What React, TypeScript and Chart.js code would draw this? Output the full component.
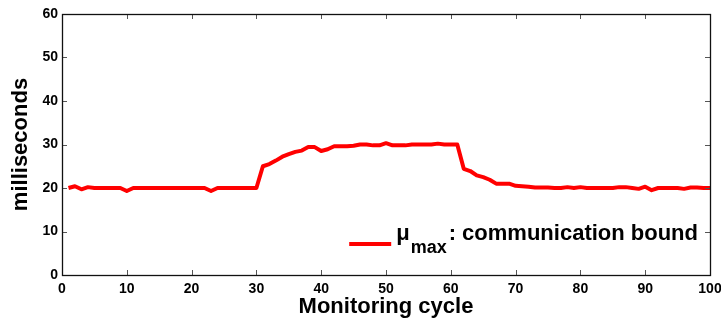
import React, { useEffect, useRef } from "react";
import { Chart, registerables } from "chart.js";

Chart.register(...registerables);

// Monitoring cycles 1..100
const cycles: number[] = Array.from({ length: 100 }, (_, i) => i + 1);

// mu_max: communication bound (milliseconds)
const commBound: number[] = [
  20.0, 20.4, 19.7, 20.2, 20.0, 20.0, 20.0, 20.0, 20.0, 19.3,
  20.0, 20.0, 20.0, 20.0, 20.0, 20.0, 20.0, 20.0, 20.0, 20.0,
  20.0, 20.0, 19.3, 20.0, 20.0, 20.0, 20.0, 20.0, 20.0, 20.0,
  25.0, 25.5, 26.3, 27.2, 27.8, 28.3, 28.6, 29.4, 29.4, 28.5,
  28.9, 29.6, 29.6, 29.6, 29.7, 30.0, 30.0, 29.8, 29.8, 30.3,
  29.8, 29.8, 29.8, 30.0, 30.0, 30.0, 30.0, 30.2, 30.0, 30.0,
  30.0, 24.4, 23.9, 22.9, 22.5, 21.9, 21.0, 21.0, 21.0, 20.5,
  20.4, 20.3, 20.1, 20.1, 20.1, 20.0, 20.0, 20.2, 20.0, 20.2,
  20.0, 20.0, 20.0, 20.0, 20.0, 20.2, 20.2, 20.0, 19.8, 20.3,
  19.5, 20.0, 20.0, 20.0, 20.0, 19.8, 20.1, 20.1, 20.0, 20.0,
];

const xTicks: number[] = [0, 10, 20, 30, 40, 50, 60, 70, 80, 90, 100];
const yTicks: number[] = [0, 10, 20, 30, 40, 50, 60];

const xTitle = "Monitoring cycle";
const yTitle = "milliseconds";
const legendSymbol = "μ";
const legendSub = "max";
const legendRest = ": communication bound";

const FONT = "'Liberation Sans', Arial, Helvetica, sans-serif";
const RED = "#ff0000";

const boxPlugin = {
  id: "boxTicksLegend",
  afterDatasetsDraw(chart: any) {
    const ctx = chart.ctx as CanvasRenderingContext2D;
    const { left, right, top, bottom } = chart.chartArea;
    const xs = chart.scales.x;
    const ys = chart.scales.y;
    ctx.save();
    // inward tick marks
    ctx.strokeStyle = "#555";
    ctx.lineWidth = 1;
    const tl = 5;
    ctx.beginPath();
    xTicks.forEach((v) => {
      const px = Math.round(xs.getPixelForValue(v)) + 0.5;
      ctx.moveTo(px, bottom);
      ctx.lineTo(px, bottom - tl);
      ctx.moveTo(px, top);
      ctx.lineTo(px, top + tl);
    });
    yTicks.forEach((v) => {
      const py = Math.round(ys.getPixelForValue(v)) + 0.5;
      ctx.moveTo(left, py);
      ctx.lineTo(left + tl, py);
      ctx.moveTo(right, py);
      ctx.lineTo(right - tl, py);
    });
    ctx.stroke();
    // box
    ctx.strokeStyle = "#111";
    ctx.lineWidth = 1.3;
    ctx.strokeRect(Math.round(left) + 0.5, Math.round(top) + 0.5, Math.round(right - left), Math.round(bottom - top));

    // legend
    const bigFont = `bold 22px ${FONT}`;
    const subFont = `bold 18px ${FONT}`;
    ctx.font = bigFont;
    const wMu = ctx.measureText(legendSymbol).width + 1;
    const wRest = ctx.measureText(legendRest).width;
    ctx.font = subFont;
    const wSub = ctx.measureText(legendSub).width + 2;
    const total = wMu + wSub + wRest;
    const endX = right - 12;
    const startX = endX - total;
    const baseY = bottom - 35;
    ctx.fillStyle = "#000";
    ctx.textBaseline = "alphabetic";
    ctx.textAlign = "left";
    ctx.font = bigFont;
    ctx.fillText(legendSymbol, startX, baseY);
    ctx.font = subFont;
    ctx.fillText(legendSub, startX + wMu, baseY + 13);
    ctx.font = bigFont;
    ctx.fillText(legendRest, startX + wMu + wSub, baseY);
    // legend line sample
    ctx.strokeStyle = RED;
    ctx.lineWidth = 4;
    ctx.beginPath();
    ctx.moveTo(startX - 47, bottom - 31);
    ctx.lineTo(startX - 5, bottom - 31);
    ctx.stroke();
    ctx.restore();
  },
};

export default function App() {
  const ref = useRef<HTMLCanvasElement | null>(null);
  useEffect(() => {
    if (!ref.current) return;
    const chart = new Chart(ref.current, {
      type: "line",
      data: {
        datasets: [
          {
            label: `${legendSymbol}${legendSub}${legendRest}`,
            data: cycles.map((c, i) => ({ x: c, y: commBound[i] })),
            borderColor: RED,
            backgroundColor: RED,
            borderWidth: 4,
            pointRadius: 0,
            tension: 0,
            borderJoinStyle: "round",
          },
        ],
      },
      options: {
        animation: false,
        responsive: false,
        maintainAspectRatio: false,
        layout: { padding: { left: 0, right: 11, top: 14, bottom: 0 } },
        plugins: {
          legend: { display: false },
          tooltip: { enabled: false },
        },
        scales: {
          x: {
            type: "linear",
            min: 0,
            max: 100,
            afterBuildTicks: (scale: any) => {
              scale.ticks = xTicks.map((v) => ({ value: v }));
            },
            afterFit: (scale: any) => {
              scale.height = 48;
              scale.paddingLeft = 0;
              scale.paddingRight = 0;
            },
            grid: { display: false, drawTicks: false },
            border: { display: false },
            ticks: {
              padding: 6,
              color: "#000",
              font: { family: FONT, size: 14, weight: "bold" },
              maxRotation: 0,
            },
            title: {
              display: true,
              text: xTitle,
              color: "#000",
              font: { family: FONT, size: 22, weight: "bold" },
              padding: { top: 0, bottom: 3 },
            },
          },
          y: {
            type: "linear",
            min: 0,
            max: 60,
            afterBuildTicks: (scale: any) => {
              scale.ticks = yTicks.map((v) => ({ value: v }));
            },
            afterFit: (scale: any) => {
              scale.width = 62;
              scale.paddingTop = 0;
              scale.paddingBottom = 0;
            },
            grid: { display: false, drawTicks: false },
            border: { display: false },
            ticks: {
              padding: 4,
              color: "#000",
              font: { family: FONT, size: 14, weight: "bold" },
            },
            title: {
              display: true,
              text: yTitle,
              color: "#000",
              font: { family: FONT, size: 22, weight: "bold" },
              padding: { top: 8, bottom: 0 },
            },
          },
        },
      },
      plugins: [boxPlugin],
    });
    return () => chart.destroy();
  }, []);
  return (
    <div style={{ position: "absolute", left: 0, top: 0, width: 721, height: 323, background: "#fff" }}>
      <canvas ref={ref} width={721} height={323} style={{ display: "block" }} />
    </div>
  );
}
